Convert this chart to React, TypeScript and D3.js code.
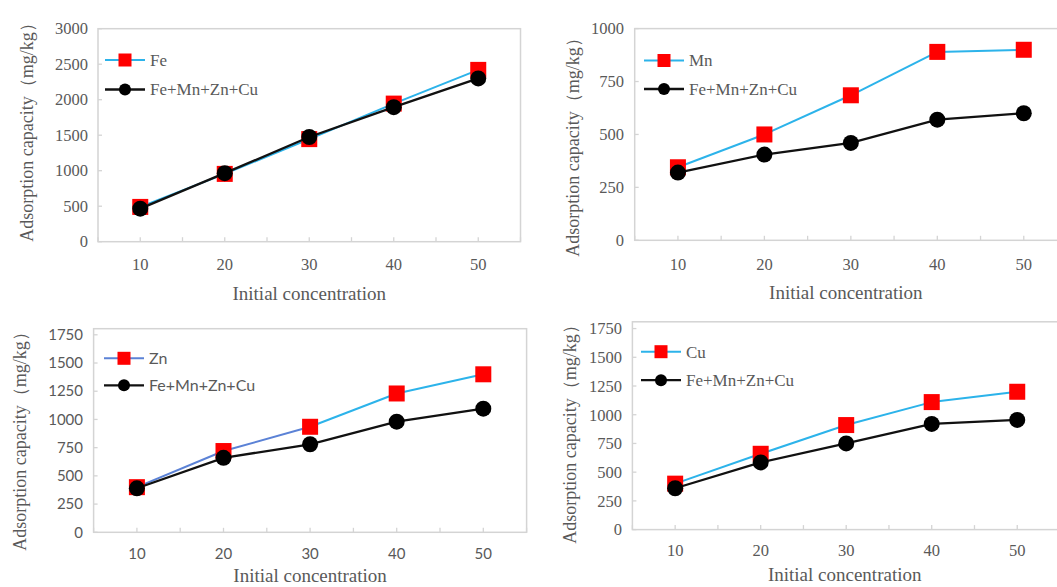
import React from "react";
import * as d3 from "d3";

// ---------- data ----------
const categories = [10, 20, 30, 40, 50];

const feSingle = [490, 955, 1445, 1945, 2420];
const feMixed = [465, 965, 1475, 1895, 2300];

const mnSingle = [345, 500, 685, 890, 900];
const mnMixed = [320, 405, 460, 570, 600];

const znSingle = [400, 720, 935, 1230, 1400];
const znMixed = [390, 660, 780, 980, 1095];

const cuSingle = [400, 660, 910, 1110, 1200];
const cuMixed = [360, 585, 750, 920, 955];

const feTicks = [0, 500, 1000, 1500, 2000, 2500, 3000];
const mnTicks = [0, 250, 500, 750, 1000];
const znTicks = [0, 250, 500, 750, 1000, 1250, 1500, 1750];
const cuTicks = [0, 250, 500, 750, 1000, 1250, 1500, 1750];

const singleNames = ["Fe", "Mn", "Zn", "Cu"];
const mixedName = "Fe+Mn+Zn+Cu";
const xTitle = "Initial concentration";
const yTitle = "Adsorption capacity（mg/kg）";

// ---------- styles / layout ----------
const SERIF = "'Liberation Serif', 'Times New Roman', serif";
const SANS = "Lato, 'Liberation Sans', sans-serif";
const TEXT = "#595959";
const GRID = "#d4d4d4";
const CYAN = "#2cb3ea";
const BLUE = "#5b82d6";

type Layout = {
  left: number; right: number; top: number; bottom: number; yMax: number;
  tickFont: string; tickSize: number; legendFont: string; legendSize: number;
  legendX: number; legendY: number; legendGap: number;
  yTitleX: number; yTitleY: number; xTickY: number; xTitleY: number;
  yLabelRight: number; segColors: string[]; legendColor: string;
};

const layouts: Layout[] = [
  { left: 98, right: 520.5, top: 28.7, bottom: 241.7, yMax: 3000, tickFont: SERIF, tickSize: 16.5, legendFont: SERIF, legendSize: 17,
    legendX: 105, legendY: 60, legendGap: 29.5, yTitleX: 27, yTitleY: 128, xTickY: 264, xTitleY: 293,
    yLabelRight: 88, segColors: [CYAN, CYAN, CYAN, CYAN], legendColor: CYAN },
  { left: 634.7, right: 1067, top: 28.6, bottom: 240.3, yMax: 1000, tickFont: SERIF, tickSize: 16.5, legendFont: SERIF, legendSize: 17,
    legendX: 644, legendY: 60.5, legendGap: 28.5, yTitleX: 573, yTitleY: 143, xTickY: 264, xTitleY: 292.5,
    yLabelRight: 624, segColors: [CYAN, CYAN, CYAN, CYAN], legendColor: CYAN },
  { left: 93.6, right: 526.6, top: 328.7, bottom: 532.3, yMax: 1804, tickFont: SANS, tickSize: 15, legendFont: SANS, legendSize: 16,
    legendX: 104, legendY: 358.3, legendGap: 27, yTitleX: 20, yTitleY: 437, xTickY: 554, xTitleY: 575,
    yLabelRight: 83, segColors: [BLUE, BLUE, CYAN, CYAN], legendColor: BLUE },
  { left: 632.4, right: 1060, top: 321.8, bottom: 529.6, yMax: 1809, tickFont: SERIF, tickSize: 16.5, legendFont: SERIF, legendSize: 17,
    legendX: 641, legendY: 351.7, legendGap: 28.5, yTitleX: 570, yTitleY: 430, xTickY: 550.5, xTitleY: 574.5,
    yLabelRight: 622, segColors: [CYAN, CYAN, CYAN, CYAN], legendColor: CYAN },
];

const panelSingle = [feSingle, mnSingle, znSingle, cuSingle];
const panelMixed = [feMixed, mnMixed, znMixed, cuMixed];
const panelTicks = [feTicks, mnTicks, znTicks, cuTicks];

function Panel({ idx }: { idx: number }) {
  const L = layouts[idx];
  const single = panelSingle[idx];
  const mixed = panelMixed[idx];
  const ticks = panelTicks[idx];

  const x = d3.scaleBand<number>().domain(categories).range([L.left, L.right]).padding(0);
  const bw = x.bandwidth();
  const cx = (c: number) => (x(c) as number) + bw / 2;
  const y = d3.scaleLinear().domain([0, L.yMax]).range([L.bottom, L.top]);

  const line = d3.line<[number, number]>().x((d) => d[0]).y((d) => d[1]);
  const singlePts: [number, number][] = categories.map((c, i) => [cx(c), y(single[i])]);
  const mixedPts: [number, number][] = categories.map((c, i) => [cx(c), y(mixed[i])]);

  const xTickPositions: number[] = [];
  for (let i = 0; i <= categories.length * 2; i++) xTickPositions.push(L.left + (i * bw) / 2);

  const sq = 16;
  const r = 8;
  const plotCenterX = (L.left + Math.min(L.right, 1057)) / 2;

  return (
    <g>
      {/* plot border */}
      <rect x={L.left} y={L.top} width={L.right - L.left} height={L.bottom - L.top} fill="none" stroke={GRID} strokeWidth={1.5} />
      {/* y ticks */}
      {ticks.map((t) => (
        <g key={"yt" + t}>
          <line x1={L.left} x2={L.left + 4} y1={y(t)} y2={y(t)} stroke={GRID} strokeWidth={1.3} />
          <text x={L.yLabelRight} y={y(t)} dy="0.35em" textAnchor="end" fontFamily={L.tickFont} fontSize={L.tickSize} fill={TEXT}>
            {t}
          </text>
        </g>
      ))}
      {/* x ticks */}
      {xTickPositions.map((p, i) => (
        <line key={"xt" + i} x1={p} x2={p} y1={L.bottom} y2={L.bottom - 4.5} stroke={GRID} strokeWidth={1.3} />
      ))}
      {categories.map((c) => (
        <text key={"xl" + c} x={cx(c)} y={L.xTickY} dy="0.35em" textAnchor="middle" fontFamily={L.tickFont} fontSize={L.tickSize} fill={TEXT}>
          {c}
        </text>
      ))}
      {/* axis titles */}
      <text x={plotCenterX} y={L.xTitleY} dy="0.35em" textAnchor="middle" fontFamily={SERIF} fontSize={19} fill={TEXT}>
        {xTitle}
      </text>
      <text transform={`translate(${L.yTitleX},${L.yTitleY}) rotate(-90)`} dy="0.35em" textAnchor="middle" fontFamily={SERIF} fontSize={18} fill={TEXT}>
        {yTitle}
      </text>
      {/* single-metal series */}
      {singlePts.slice(0, -1).map((p, i) => (
        <path key={"sl" + i} d={line([p, singlePts[i + 1]]) || ""} stroke={L.segColors[i]} strokeWidth={2} fill="none" />
      ))}
      {singlePts.map((p, i) => (
        <rect key={"sq" + i} x={p[0] - sq / 2} y={p[1] - sq / 2} width={sq} height={sq} fill="#ff0000" />
      ))}
      {/* mixed series */}
      <path d={line(mixedPts) || ""} stroke="#111" strokeWidth={2.3} fill="none" />
      {mixedPts.map((p, i) => (
        <circle key={"mc" + i} cx={p[0]} cy={p[1]} r={r} fill="#000" />
      ))}
      {/* legend */}
      <g>
        <line x1={L.legendX} x2={L.legendX + 40} y1={L.legendY} y2={L.legendY} stroke={L.legendColor} strokeWidth={2} />
        <rect x={L.legendX + 20 - 6.5} y={L.legendY - 6.5} width={13} height={13} fill="#ff0000" />
        <text x={L.legendX + 45} y={L.legendY} dy="0.35em" fontFamily={L.legendFont} fontSize={L.legendSize} fill={TEXT}>
          {singleNames[idx]}
        </text>
        <line x1={L.legendX} x2={L.legendX + 40} y1={L.legendY + L.legendGap} y2={L.legendY + L.legendGap} stroke="#111" strokeWidth={2.3} />
        <circle cx={L.legendX + 20} cy={L.legendY + L.legendGap} r={6} fill="#000" />
        <text x={L.legendX + 45} y={L.legendY + L.legendGap} dy="0.35em" fontFamily={L.legendFont} fontSize={L.legendSize} fill={TEXT}>
          {mixedName}
        </text>
      </g>
    </g>
  );
}

export default function App() {
  return (
    <svg width={1057} height={587} style={{ position: "absolute", left: 0, top: 0, background: "#fff" }}>
      <rect x={0} y={0} width={1057} height={587} fill="#fff" />
      {layouts.map((_, i) => (
        <Panel key={i} idx={i} />
      ))}
    </svg>
  );
}
